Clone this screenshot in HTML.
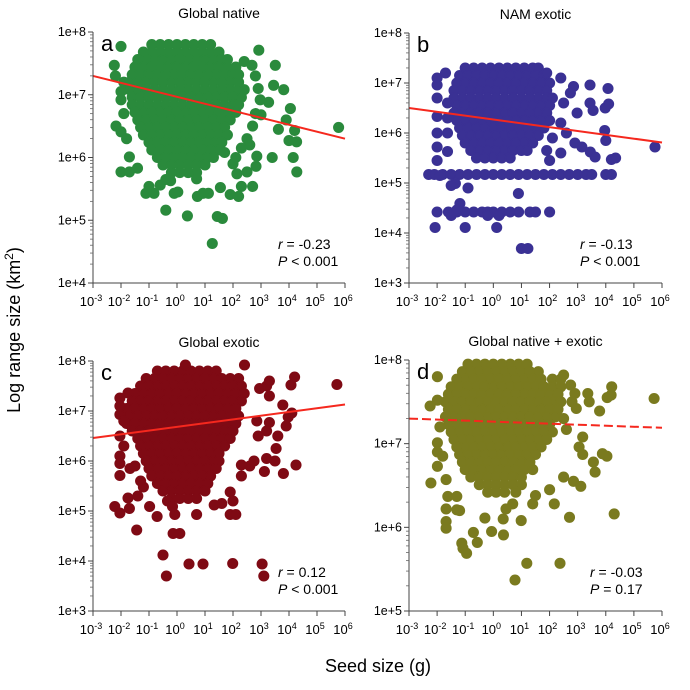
<!DOCTYPE html>
<html><head><meta charset="utf-8">
<style>
html,body{margin:0;padding:0;background:#fff;}
svg{display:block;font-family:"Liberation Sans",Arial,sans-serif;}
</style></head>
<body>
<svg id="fig" width="690" height="690" viewBox="0 0 690 690">
<text x="20" y="330" transform="rotate(-90 20 330)" text-anchor="middle" font-size="18">Log range size (km<tspan dy="-7" font-size="12">2</tspan><tspan dy="7">)</tspan></text>
<text x="378" y="672" text-anchor="middle" font-size="18">Seed size (g)</text>
</svg>
<script>
// ---- data (log10 seed size, log10 range size) ----
const xTicks = [-3,-2,-1,0,1,2,3,4,5,6];
const titles = ["Global native","NAM exotic","Global exotic","Global native + exotic"];
const letters = ["a","b","c","d"];
const rValues = ["-0.23","-0.13","0.12","-0.03"];
const pValues = ["< 0.001","< 0.001","< 0.001","= 0.17"];
const colors = ["#2a8a3c","#3a3194","#7f0a14","#7a7a1f"];
const fitA = [7.3, 6.3];
const fitB = [6.5, 5.81];
const fitC = [6.46, 7.13];
const fitD = [7.3, 7.19];

const aRows = [
"7.8:-0.9,-0.6,-0.3,0,0.3,0.6,0.9,1.2",
"7.68:-1.2,-0.9,-0.6,-0.3,0,0.3,0.6,0.9,1.2,1.5",
"7.56:-1.4,-1.1,-0.8,-0.5,-0.2,0.1,0.4,0.7,1,1.3,1.6,1.8",
"7.44:-1.5,-1.2,-0.9,-0.6,-0.3,0,0.3,0.6,0.9,1.2,1.5,1.8,2.1",
"7.32:-1.6,-1.3,-1,-0.7,-0.4,-0.1,0.2,0.5,0.8,1.1,1.4,1.7,2,2.2",
"7.2:-1.7,-1.4,-1.1,-0.8,-0.5,-0.2,0.1,0.4,0.7,1,1.3,1.6,1.9,2.2",
"7.08:-1.7,-1.4,-1.1,-0.8,-0.5,-0.2,0.1,0.4,0.7,1,1.3,1.6,1.9,2.2,2.4",
"6.96:-1.6,-1.3,-1,-0.7,-0.4,-0.1,0.2,0.5,0.8,1.1,1.4,1.7,2,2.3",
"6.84:-1.6,-1.3,-1,-0.7,-0.4,-0.1,0.2,0.5,0.8,1.1,1.4,1.7,2,2.2",
"6.72:-1.5,-1.2,-0.9,-0.6,-0.3,0,0.3,0.6,0.9,1.2,1.5,1.8,2.1",
"6.6:-1.4,-1.1,-0.8,-0.5,-0.2,0.1,0.4,0.7,1,1.3,1.6,1.9",
"6.48:-1.3,-1,-0.7,-0.4,-0.1,0.2,0.5,0.8,1.1,1.4,1.7",
"6.36:-1.2,-0.9,-0.6,-0.3,0,0.3,0.6,0.9,1.2,1.5,1.8",
"6.24:-1,-0.7,-0.4,-0.1,0.2,0.5,0.8,1.1,1.4,1.6",
"6.12:-0.9,-0.6,-0.3,0,0.3,0.6,0.9,1.2,1.5",
"6.0:-0.7,-0.4,-0.1,0.2,0.5,0.8,1.1,1.3",
"5.88:-0.5,-0.2,0.1,0.4,0.7,1",
"5.76:-0.2,0.1,0.4,0.7"
];
const aPts = [[-2,7.77],[-2.24,7.47],[-2.18,6.5],[-2,6.41],[-2,5.77],[-1.7,5.77],[-1.41,5.83],[-1.7,6.01],[-2,6.92],[-1.11,5.43],[-0.82,5.43],[-0.4,5.16],[0.37,5.07],[1.26,4.63],[1.44,5.06],[1.62,5.03],[0.73,5.38],[2.92,7.71],[3.51,7.47],[3.45,7.15],[3.81,7.08],[2.97,6.92],[3.27,6.88],[4.05,6.78],[3.9,6.6],[3.62,6.45],[4.2,6.43],[4.0,6.27],[4.27,6.25],[5.77,6.48],[4.28,5.77],[4.15,6.0],[3.4,6.0],[2.82,5.86],[2.5,5.77],[2.14,5.74],[2.7,5.54],[2.3,5.54],[2.2,5.38],[1.9,5.41],[1.55,5.52],[1.12,5.43],[0.93,5.43],[0.7,5.66],[-0.1,5.43],[0.03,5.45],[-0.23,5.63],[-1.0,5.54],[-0.6,5.56],[-0.4,5.65],[2.4,7.53],[2.68,7.47],[2.8,7.3],[2.9,7.1],[2.8,6.7],[3.0,6.68],[2.7,6.5],[2.5,6.3],[2.6,6.2],[2.85,6.02],[2.3,6.15],[2.0,5.9],[2.1,6.0],[1.7,6.08],[-1.9,7.2],[-2.0,7.05],[-1.9,6.7],[-1.8,6.3],[-2.2,7.3]];

const bRows = [
"7.3:-1,-0.7,-0.4,-0.1,0.2,0.5,0.8,1.1,1.4,1.6",
"7.15:-1.2,-0.9,-0.6,-0.3,0,0.3,0.6,0.9,1.2,1.5,1.8",
"7.0:-1.3,-1,-0.7,-0.4,-0.1,0.2,0.5,0.8,1.1,1.4,1.7,2",
"6.85:-1.4,-1.1,-0.8,-0.5,-0.2,0.1,0.4,0.7,1,1.3,1.6,1.9",
"6.7:-1.4,-1.1,-0.8,-0.5,-0.2,0.1,0.4,0.7,1,1.3,1.6,1.9,2.1",
"6.55:-1.3,-1,-0.7,-0.4,-0.1,0.2,0.5,0.8,1.1,1.4,1.7,2",
"6.4:-1.4,-1.1,-0.8,-0.5,-0.2,0.1,0.4,0.7,1,1.3,1.6,1.9",
"6.25:-1.3,-1,-0.7,-0.4,-0.1,0.2,0.5,0.8,1.1,1.4,1.7,2",
"6.1:-1.2,-0.9,-0.6,-0.3,0,0.3,0.6,0.9,1.2,1.5,1.8",
"5.95:-1.1,-0.8,-0.5,-0.2,0.1,0.4,0.7,1,1.3,1.6",
"5.8:-1,-0.7,-0.4,-0.1,0.2,0.5,0.8,1.1,1.4",
"5.65:-0.8,-0.5,-0.2,0.1,0.4,0.7,1,1.2",
"5.5:-0.6,-0.3,0,0.3,0.6",
"5.17:-2.3,-2.1,-1.8,-1.5,-1.2,-0.9,-0.6,-0.3,0,0.3,0.6,0.9,1.2,1.5,1.8,2.1,2.4,2.7,3,3.3,3.5,4,4.2",
"4.42:-2,-1.6,-1.3,-1,-0.7,-0.4,-0.2,0,0.3,0.6,0.9,1.3,1.5,2",
"4.35:-1.5,-0.2,0.2"
];
const bPts = [[-2.07,4.11],[-1.0,4.11],[0.12,4.11],[1.0,3.69],[1.23,3.69],[0.89,4.79],[-1.19,4.59],[-1.3,4.46],[-1.35,4.99],[-2,6.96],[-2,6.7],[-2,6.33],[-2,6.0],[-2,5.72],[-2,5.45],[-2,7.1],[-1.7,7.2],[-1.63,6.6],[-1.63,6.3],[-1.63,6.0],[-1.63,5.63],[-1.9,5.15],[1.9,7.2],[2.4,7.1],[2.85,6.93],[3.44,6.96],[4.08,6.89],[3.44,6.6],[3.55,6.45],[3.98,6.5],[4.1,6.58],[2.74,6.8],[2.98,6.4],[2.5,6.6],[3.96,6.05],[4.0,5.85],[3.15,5.72],[3.45,5.62],[3.62,5.52],[4.2,5.47],[4.35,5.5],[5.75,5.72],[2.4,6.2],[2.6,6.0],[2.9,5.8],[2.4,5.6],[2.0,5.45],[1.9,5.65],[2.1,5.9],[-1.5,4.95],[-0.9,4.9]];

const cRows = [
"7.8:-0.7,-0.4,-0.1,0.2,0.5,0.8,1.1,1.4",
"7.65:-1.1,-0.8,-0.5,-0.2,0.1,0.4,0.7,1,1.3,1.6,1.9,2.2",
"7.5:-1.3,-1,-0.7,-0.4,-0.1,0.2,0.5,0.8,1.1,1.4,1.7,2,2.3",
"7.35:-1.5,-1.2,-0.9,-0.6,-0.3,0,0.3,0.6,0.9,1.2,1.5,1.8,2.1,2.4",
"7.2:-1.6,-1.3,-1,-0.7,-0.4,-0.1,0.2,0.5,0.8,1.1,1.4,1.7,2,2.3",
"7.05:-1.8,-1.5,-1.2,-0.9,-0.6,-0.3,0,0.3,0.6,0.9,1.2,1.5,1.8,2.1",
"6.9:-1.7,-1.4,-1.1,-0.8,-0.5,-0.2,0.1,0.4,0.7,1,1.3,1.6,1.9,2.2",
"6.75:-1.8,-1.5,-1.2,-0.9,-0.6,-0.3,0,0.3,0.6,0.9,1.2,1.5,1.8,2.1",
"6.6:-1.6,-1.3,-1,-0.7,-0.4,-0.1,0.2,0.5,0.8,1.1,1.4,1.7,2",
"6.45:-1.4,-1.1,-0.8,-0.5,-0.2,0.1,0.4,0.7,1,1.3,1.6,1.9",
"6.3:-1.3,-1,-0.7,-0.4,-0.1,0.2,0.5,0.8,1.1,1.4,1.7",
"6.15:-1.2,-0.9,-0.6,-0.3,0,0.3,0.6,0.9,1.2,1.5",
"6.0:-1.1,-0.8,-0.5,-0.2,0.1,0.4,0.7,1,1.3,1.5",
"5.85:-1,-0.7,-0.4,-0.1,0.2,0.5,0.8,1.1,1.4",
"5.7:-0.9,-0.6,-0.3,0,0.3,0.6,0.9,1.2",
"5.55:-0.7,-0.4,-0.1,0.2,0.5,0.8,1.1",
"5.4:-0.5,-0.2,0.1,0.4,0.7,1",
"5.25:-0.2,0.1,0.4,0.7"
];
const cPts = [[-2.22,5.09],[-2.04,4.96],[-1.44,4.62],[-0.5,4.12],[-0.38,3.7],[-0.14,4.55],[0.1,4.55],[0.43,3.94],[0.93,3.94],[1.99,3.95],[3.04,3.94],[3.1,3.7],[-0.71,4.89],[-0.08,4.93],[0.7,4.93],[1.9,4.93],[2.1,4.93],[-2.04,7.26],[-2.04,6.93],[-2.04,6.5],[-2.04,6.1],[-2.04,5.95],[-2.04,5.71],[-2.04,7.1],[-1.75,7.36],[-1.68,5.85],[-1.75,5.26],[-1.4,5.3],[-1.2,5.48],[-0.98,5.09],[-0.34,5.2],[-0.16,5.09],[1.33,5.12],[1.6,5.15],[1.9,5.38],[2.0,5.2],[2.3,5.92],[2.6,5.9],[2.3,5.7],[2.75,6.0],[3.12,5.79],[3.2,6.05],[3.5,6.0],[3.54,6.25],[4.25,5.92],[3.8,5.75],[3.6,6.5],[2.9,6.5],[3.2,6.6],[3.3,6.77],[3.9,6.7],[3.97,6.88],[4.1,6.96],[3.78,7.12],[4.07,7.52],[4.2,7.68],[3.2,7.5],[3.3,7.6],[2.95,7.45],[3.3,7.3],[5.71,7.53],[2.85,6.8],[2.41,7.92],[-1.9,6.8],[-1.9,6.3],[-1.5,5.9],[-1.3,5.6],[0.3,7.92],[-1.7,5.05]];

const dRows = [
"7.95:-0.9,-0.6,-0.3,0,0.3,0.6,0.9,1.2",
"7.86:-1.1,-0.8,-0.5,-0.2,0.1,0.4,0.7,1,1.3,1.6",
"7.77:-1.3,-1,-0.7,-0.4,-0.1,0.2,0.5,0.8,1.1,1.4,1.7,2.1",
"7.68:-1.5,-1.2,-0.9,-0.6,-0.3,0,0.3,0.6,0.9,1.2,1.5,1.8,2.1,2.4",
"7.59:-1.6,-1.3,-1,-0.7,-0.4,-0.1,0.2,0.5,0.8,1.1,1.4,1.7,2,2.3",
"7.5:-1.7,-1.4,-1.1,-0.8,-0.5,-0.2,0.1,0.4,0.7,1,1.3,1.6,1.9,2.2,2.4",
"7.41:-1.6,-1.3,-1,-0.7,-0.4,-0.1,0.2,0.5,0.8,1.1,1.4,1.7,2,2.3",
"7.32:-1.7,-1.4,-1.1,-0.8,-0.5,-0.2,0.1,0.4,0.7,1,1.3,1.6,1.9,2.2",
"7.23:-1.6,-1.3,-1,-0.7,-0.4,-0.1,0.2,0.5,0.8,1.1,1.4,1.7,2",
"7.14:-1.5,-1.2,-0.9,-0.6,-0.3,0,0.3,0.6,0.9,1.2,1.5,1.8,2.1",
"7.05:-1.4,-1.1,-0.8,-0.5,-0.2,0.1,0.4,0.7,1,1.3,1.6,1.9",
"6.96:-1.3,-1,-0.7,-0.4,-0.1,0.2,0.5,0.8,1.1,1.4,1.7",
"6.87:-1.2,-0.9,-0.6,-0.3,0,0.3,0.6,0.9,1.2,1.5",
"6.78:-1.1,-0.8,-0.5,-0.2,0.1,0.4,0.7,1,1.3",
"6.69:-1,-0.7,-0.4,-0.1,0.2,0.5,0.8,1.1,1.4",
"6.6:-0.8,-0.5,-0.2,0.1,0.4,0.7,1",
"6.51:-0.5,-0.2,0.1,0.4,0.7,1",
"6.42:-0.2,0.1,0.4,0.8"
];
const dPts = [[-2.22,6.53],[-1.99,6.73],[-1.99,7.01],[-1.99,6.9],[-1.99,7.52],[-1.99,7.8],[-2.25,7.45],[-1.68,6.57],[-1.68,6.07],[-1.68,5.99],[-1.68,6.22],[-1.62,6.37],[-1.3,6.37],[-1.3,6.21],[-1.2,6.2],[-1.12,5.81],[-1.08,5.75],[-0.95,5.69],[-0.71,5.94],[-0.57,5.82],[-0.06,5.95],[0.36,5.91],[-0.3,6.11],[0.35,6.1],[0.45,6.22],[0.69,6.28],[0.99,6.08],[1.19,5.57],[0.77,5.37],[2.37,5.57],[2.17,6.28],[2.71,6.12],[4.3,6.16],[2.85,6.55],[3.11,6.49],[2.0,6.45],[1.4,6.28],[1.5,6.38],[2.5,6.6],[3.88,6.88],[4.04,6.85],[3.56,6.78],[3.62,6.66],[3.18,6.87],[3.18,7.08],[3.05,6.96],[2.95,7.42],[3.36,7.6],[3.41,7.5],[3.78,7.39],[4.21,7.68],[4.19,7.58],[4.05,7.55],[5.72,7.54],[2.4,7.77],[2.5,7.82],[2.75,7.7],[2.9,7.6],[2.8,7.5],[2.5,7.3],[2.6,7.17],[-1.9,7.2],[-1.8,6.85]];

const panels = [
 {x0:93,x1:345,y0:32,y1:283,ymin:4,ymax:8,rows:aRows,pts:aPts,fit:fitA,dash:false,tx:278,ty:249},
 {x0:409,x1:662,y0:33,y1:283,ymin:3,ymax:8,rows:bRows,pts:bPts,fit:fitB,dash:false,tx:580,ty:249},
 {x0:93,x1:345,y0:361,y1:611,ymin:3,ymax:8,rows:cRows,pts:cPts,fit:fitC,dash:false,tx:278,ty:577},
 {x0:409,x1:662,y0:360,y1:611,ymin:5,ymax:8,rows:dRows,pts:dPts,fit:fitD,dash:true,tx:590,ty:577}
];

const NS="http://www.w3.org/2000/svg";
const svg=document.getElementById('fig');
function mk(tag,attrs,parent){const e=document.createElementNS(NS,tag);for(const k in attrs)e.setAttribute(k,attrs[k]);(parent||svg).appendChild(e);return e;}

panels.forEach((p,i)=>{
  const g=mk('g',{});
  
  
  const sx=v=>p.x0+(v-(-3))/9*(p.x1-p.x0);
  const sy=v=>p.y1-(v-p.ymin)/(p.ymax-p.ymin)*(p.y1-p.y0);
  const pg=mk('g',{fill:colors[i],stroke:colors[i],'stroke-width':1.3},g);
  
  
  const all=[];
  p.rows.forEach(r=>{const [yv,xs]=r.split(':');xs.split(',').forEach(x=>all.push([+x,+yv]));});
  p.pts.forEach(q=>all.push(q));
  all.forEach(q=>{const c=mk('circle',{cx:sx(q[0]).toFixed(1),cy:sy(q[1]).toFixed(1),r:4.9},pg);
    
    });
  const ln=mk('line',{x1:sx(-3),y1:sy(p.fit[0]),x2:sx(6),y2:sy(p.fit[1]),stroke:'#f5281e','stroke-width':2},g);
  if(p.dash) ln.setAttribute('stroke-dasharray','9,4');
  
  
  const ax=mk('path',{d:`M${p.x0},${p.y0}V${p.y1}H${p.x1}`,stroke:'#444',fill:'none','stroke-width':1},g);
  
  
  for(let k=p.ymin;k<=p.ymax;k++){
    const y=sy(k);
    mk('line',{x1:p.x0-5,x2:p.x0,y1:y,y2:y,stroke:'#444'},g);
    const t=mk('text',{x:p.x0-7,y:y+4,'text-anchor':'end','font-size':12.5},g);
    t.textContent='1e+'+k;
    
    
    if(k<p.ymax) for(let m=2;m<=9;m++){const yy=sy(k+Math.log10(m));mk('line',{x1:p.x0-3,x2:p.x0,y1:yy,y2:yy,stroke:'#666','stroke-width':0.8},g);}
  }
  xTicks.forEach(k=>{
    const x=sx(k);
    mk('line',{x1:x,x2:x,y1:p.y1,y2:p.y1+5,stroke:'#444'},g);
    const t=mk('text',{x:x-2,y:p.y1+23,'text-anchor':'middle','font-size':13},g);
    
    
    t.textContent='10';
    const s=mk('tspan',{dy:-5,'font-size':9},t);s.textContent=String(k);
  });
  const ti=mk('text',{x:(p.x0+p.x1)/2,y:p.y0-14,'text-anchor':'middle','font-size':14},g);
  ti.textContent=titles[i];
  
  
  const le=mk('text',{x:p.x0+8,y:p.y0+19,'font-size':22},g);
  le.textContent=letters[i];
  
  
  const rt=mk('text',{x:p.tx,y:p.ty,'font-size':14},g);
  
  
  const ri=mk('tspan',{'font-style':'italic'},rt);ri.textContent='r';
  const rv=mk('tspan',{},rt);rv.textContent=' = '+rValues[i];
  const pt=mk('text',{x:p.tx,y:p.ty+17,'font-size':14},g);
  
  
  const pi=mk('tspan',{'font-style':'italic'},pt);pi.textContent='P';
  const pv=mk('tspan',{},pt);pv.textContent=' '+pValues[i];
});
</script>
</body></html>
